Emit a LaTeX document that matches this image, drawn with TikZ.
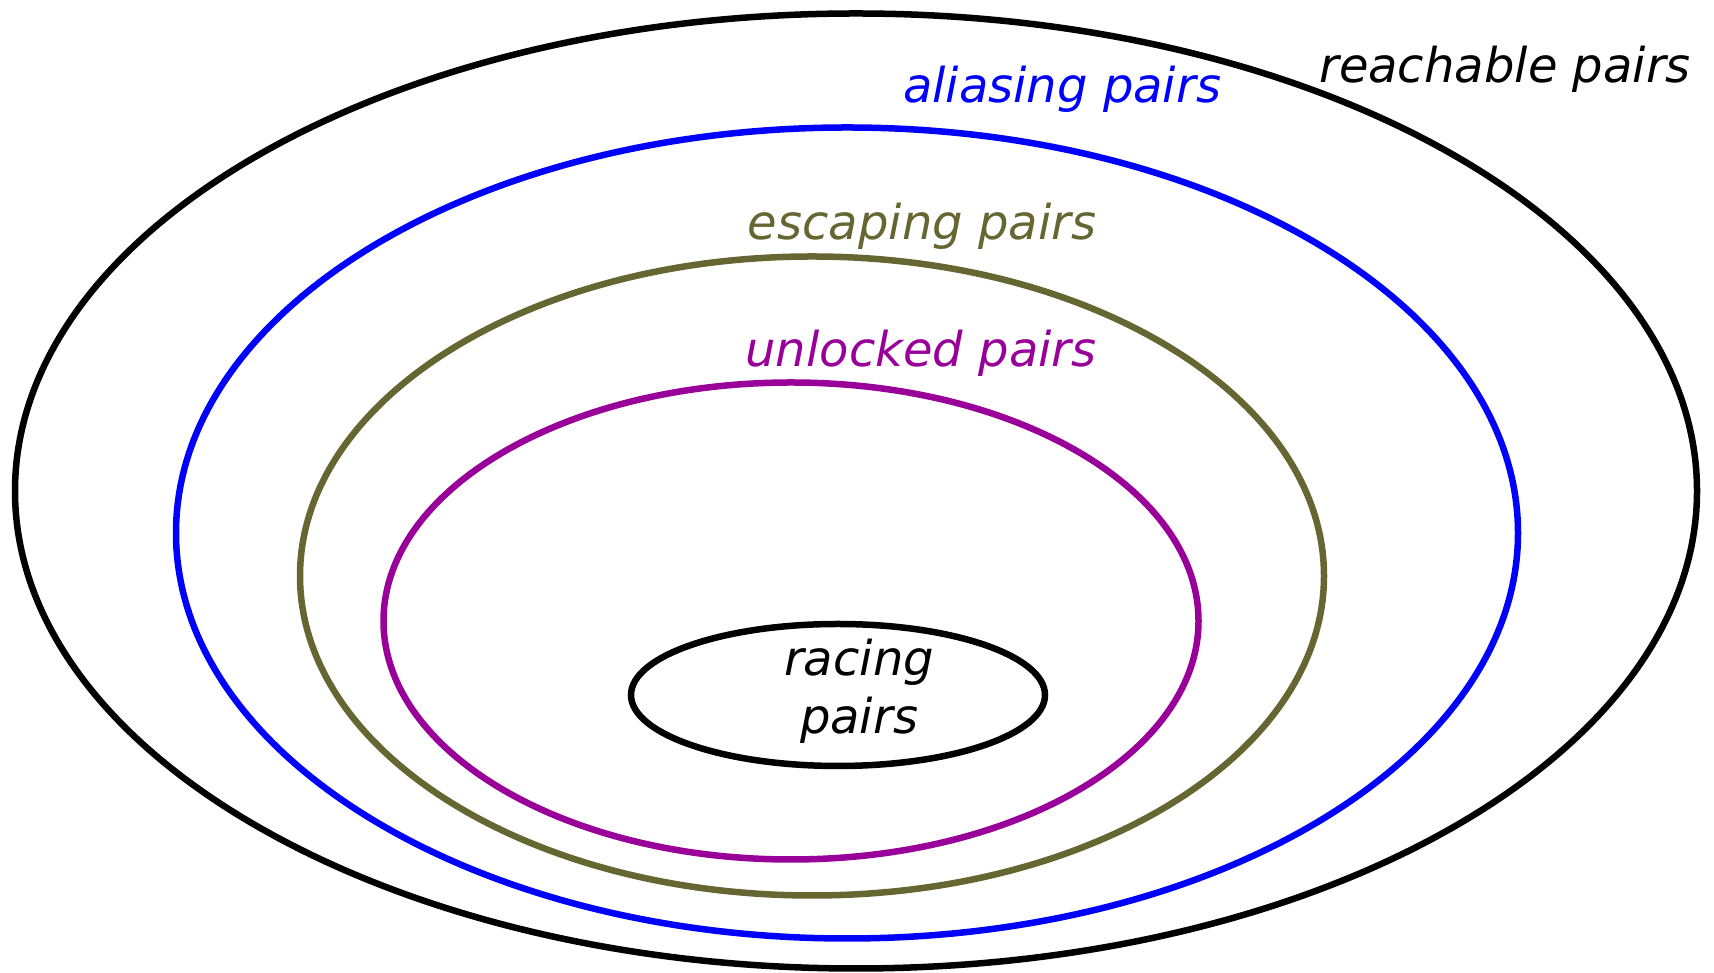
\documentclass[tikz,border=0pt]{standalone}
\usepackage{fontspec}
\setmainfont{DejaVu Sans}
\usetikzlibrary{shapes.geometric}
\definecolor{setblue}{RGB}{0,0,255}
\definecolor{setolive}{RGB}{102,102,51}
\definecolor{setpurple}{RGB}{153,0,153}
\tikzset{
  setring/.style={ellipse, draw, line width=6.5pt, inner sep=0pt},
  setlabel/.style={font=\fontsize{48}{58}\selectfont\itshape, inner sep=0pt, anchor=base},
}
\begin{document}
\begin{tikzpicture}[x=1pt,y=1pt]
  \useasboundingbox (0,0) rectangle (1714,973);
  % nested sets, outermost first
  \node[setring, minimum width=1682pt, minimum height=955pt] (reach) at (856,482) {};
  \node[setring, setblue, minimum width=1342pt, minimum height=811pt] (alias) at (847,440) {};
  \node[setring, setolive, minimum width=1024pt, minimum height=639pt] (escape) at (812,397) {};
  \node[setring, setpurple, minimum width=815pt, minimum height=477pt] (unlock) at (791,352) {};
  \node[setring, minimum width=414pt, minimum height=142pt] (race) at (838,278) {};
  % set names
  \node[setlabel] (reachlbl) at (1505,890) {reachable pairs};
  \node[setlabel, text=setblue] (aliaslbl) at (1062,870) {aliasing pairs};
  \node[setlabel, text=setolive] (escapelbl) at (922,733) {escaping pairs};
  \node[setlabel, text=setpurple] (unlocklbl) at (921,606) {unlocked pairs};
  \node[setlabel] (racelbl1) at (859,297) {racing};
  \node[setlabel] (racelbl2) at (859,239) {pairs};
\end{tikzpicture}
\end{document}
